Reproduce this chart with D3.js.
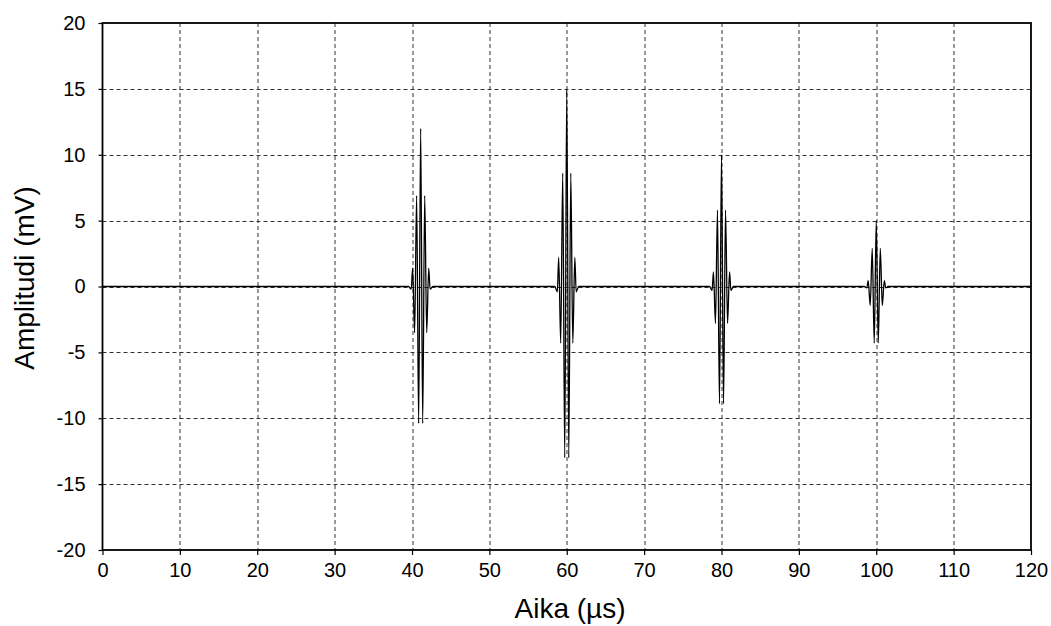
<!DOCTYPE html>
<html>
<head>
<meta charset="utf-8">
<script src="https://cdn.jsdelivr.net/npm/d3@7"></script>
<style>
    body { margin: 0; background: #fff; }
    text { font-family: "Liberation Sans", Arial, sans-serif; fill: #000; }
</style>
</head>
<body>
<div id="chart-area"></div>
<script>
// Axis ticks
var xTicks = [0, 10, 20, 30, 40, 50, 60, 70, 80, 90, 100, 110, 120];
var yTicks = [-20, -15, -10, -5, 0, 5, 10, 15, 20];

// Pulse echoes: time (us) and amplitude (mV) at each turning point
var pulse1Time = [39.55, 39.90, 40.08, 40.34, 40.60, 40.86, 41.12, 41.38, 41.64, 41.90, 42.16, 42.34, 42.70];
var pulse1Amp  = [0, -0.2, 1.4, -3.5, 6.9, -10.4, 12.0, -10.4, 6.9, -3.5, 1.4, -0.2, 0];

var pulse2Time = [58.45, 58.78, 58.96, 59.22, 59.48, 59.74, 60.00, 60.26, 60.52, 60.78, 61.04, 61.22, 61.55];
var pulse2Amp  = [0, -0.4, 2.2, -4.3, 8.6, -13.0, 15.0, -13.0, 8.6, -4.3, 2.2, -0.4, 0];

var pulse3Time = [78.45, 78.78, 78.96, 79.22, 79.48, 79.74, 80.00, 80.26, 80.52, 80.78, 81.04, 81.22, 81.55];
var pulse3Amp  = [0, -0.3, 1.1, -2.8, 5.8, -8.9, 10.0, -8.9, 5.8, -2.8, 1.1, -0.3, 0];

var pulse4Time = [98.45, 98.78, 98.96, 99.22, 99.48, 99.74, 100.00, 100.26, 100.52, 100.78, 101.04, 101.22, 101.55];
var pulse4Amp  = [0, -0.1, 0.45, -1.45, 2.9, -4.3, 5.0, -4.3, 2.9, -1.45, 0.45, -0.1, 0];

function signalChart(){
    var margin = { left:102.5, right:20, top:23, bottom:76 };
    var totalW = 1051, totalH = 626;
    var width = totalW - margin.left - margin.right,
        height = totalH - margin.top - margin.bottom;

    var svg = d3.select("#chart-area")
        .append("svg")
            .attr("width", totalW)
            .attr("height", totalH)
        .append("g")
            .attr("transform", "translate(" + margin.left + ", " + margin.top + ")");

    var x = d3.scaleLinear().domain([0, 120]).range([0, width]);
    var y = d3.scaleLinear().domain([-20, 20]).range([height, 0]);

    // dashed grid
    svg.append("g").selectAll("line.vgrid")
        .data(xTicks.slice(1, -1))
        .enter().append("line")
            .attr("x1", function(d){ return Math.round(x(d)) + 0.5; })
            .attr("x2", function(d){ return Math.round(x(d)) + 0.5; })
            .attr("y1", 0).attr("y2", height)
            .attr("stroke", "#333")
            .attr("stroke-dasharray", "4,3");
    svg.append("g").selectAll("line.hgrid")
        .data(yTicks.slice(1, -1))
        .enter().append("line")
            .attr("y1", function(d){ return Math.round(y(d)) + 0.5; })
            .attr("y2", function(d){ return Math.round(y(d)) + 0.5; })
            .attr("x1", 0).attr("x2", width)
            .attr("stroke", "#333")
            .attr("stroke-dasharray", "4,3");

    // axes (plain hyphen for negatives, like the original)
    var plain = function(d){ return String(d); };
    var xAxisCall = d3.axisBottom(x).tickValues(xTicks).tickSize(5).tickPadding(8).tickFormat(plain);
    var xAxisGroup = svg.append("g")
        .attr("transform", "translate(0," + height + ")")
        .call(xAxisCall);
    var yAxisCall = d3.axisLeft(y).tickValues(yTicks).tickSize(4).tickPadding(13).tickFormat(plain);
    var yAxisGroup = svg.append("g").call(yAxisCall);

    [xAxisGroup, yAxisGroup].forEach(function(g){
        g.select(".domain").remove();
        g.selectAll("line").attr("stroke", "#000").attr("stroke-width", 1.2);
        g.selectAll("text")
            .attr("font-size", "20px")
            .style("font-family", "'Liberation Sans', Arial, sans-serif")
            .attr("fill", "#000");
    });

    // frame
    svg.append("rect")
        .attr("x", 0).attr("y", 0)
        .attr("width", width).attr("height", height)
        .attr("fill", "none")
        .attr("stroke", "#000")
        .attr("stroke-width", 1.8);

    // build the whole trace
    var signal = [{ t: 0, v: 0 }];
    [[pulse1Time, pulse1Amp], [pulse2Time, pulse2Amp], [pulse3Time, pulse3Amp], [pulse4Time, pulse4Amp]]
        .forEach(function(p){
            p[0].forEach(function(t, i){ signal.push({ t: t, v: p[1][i] }); });
        });
    signal.push({ t: 120, v: 0 });

    var line = d3.line()
        .x(function(d){ return x(d.t); })
        .y(function(d){ return y(d.v); })
        .curve(d3.curveMonotoneX);

    svg.append("path")
        .datum(signal)
        .attr("d", line)
        .attr("fill", "none")
        .attr("stroke", "#000")
        .attr("stroke-width", 1.3);

    // X Label
    svg.append("text")
        .attr("x", 570 - margin.left)
        .attr("y", 618 - margin.top)
        .attr("font-size", "28px")
        .attr("text-anchor", "middle")
        .text("Aika (µs)");

    // Y Label
    svg.append("text")
        .attr("transform", "translate(" + (34 - margin.left) + "," + (278 - margin.top) + ") rotate(-90)")
        .attr("font-size", "28px")
        .attr("text-anchor", "middle")
        .text("Amplitudi (mV)");
}

signalChart();
</script>
</body>
</html>
